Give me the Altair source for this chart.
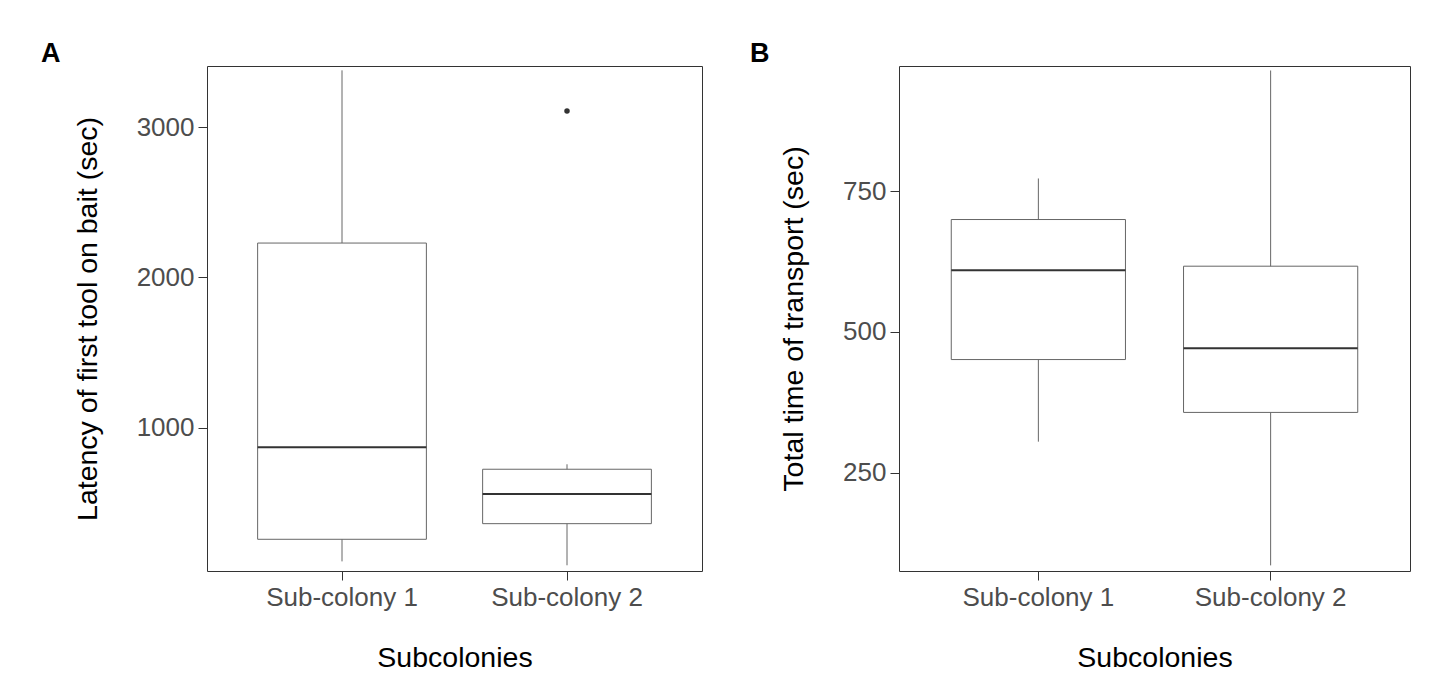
import altair as alt
import pandas as pd

# ---- data ----
categories = ["Sub-colony 1", "Sub-colony 2"]

# Panel A: latency of first tool on bait (sec)
a_lower = [110, 84]
a_q1 = [257, 361]
a_median = [869, 558]
a_q3 = [2228, 723]
a_upper = [3377, 756]
a_out_group = ["Sub-colony 2"]
a_out_value = [3106]
a_domain = [46, 3406]
a_ticks = [1000, 2000, 3000]

# Panel B: total time of transport (sec)
b_lower = [305, 85]
b_q1 = [451, 357]
b_median = [610, 471]
b_q3 = [700, 617]
b_upper = [773, 965]
b_out_group = []
b_out_value = []
b_domain = [75, 973]
b_ticks = [250, 500, 750]

FONT = "Liberation Sans"


def panel(lower, q1, med, q3, upper, out_g, out_v, domain, ticks,
          ytitle, width, letter, letter_dx):
    df = pd.DataFrame({"group": categories, "lower": lower, "q1": q1,
                       "median": med, "q3": q3, "upper": upper})
    xenc = alt.X("group:N", sort=categories,
                 scale=alt.Scale(type="band", paddingInner=0.25, paddingOuter=0.225),
                 axis=alt.Axis(title="Subcolonies", labelAngle=0))
    yscale = alt.Scale(domain=domain, nice=False, zero=False)
    yaxis = alt.Axis(title=ytitle, values=ticks, format="d")
    base = alt.Chart(df)
    whisk = base.mark_rule(color="#666666", strokeWidth=1).encode(
        x=xenc, y=alt.Y("lower:Q", scale=yscale, axis=yaxis), y2="upper:Q")
    box = base.mark_bar(fill="white", stroke="#666666", strokeWidth=1).encode(
        x=xenc, y=alt.Y("q1:Q", scale=yscale, axis=yaxis), y2="q3:Q")
    bw = width / 2.2 * 0.75
    medl = base.mark_tick(orient="horizontal", size=bw, thickness=2,
                          color="#333333", opacity=1).encode(
        x=xenc, y=alt.Y("median:Q", scale=yscale, axis=yaxis))
    layers = [whisk, box, medl]
    if len(out_g):
        odf = pd.DataFrame({"group": out_g, "value": out_v})
        pts = alt.Chart(odf).mark_circle(size=30, color="#333333", opacity=1).encode(
            x=xenc, y=alt.Y("value:Q", scale=yscale, axis=yaxis))
        layers.append(pts)
    return alt.layer(*layers).properties(
        width=width, height=505,
        title=alt.TitleParams(letter, anchor="start", frame="group", dx=letter_dx,
                              fontSize=27, fontWeight="bold", font=FONT,
                              color="black", offset=-2))


pa = panel(a_lower, a_q1, a_median, a_q3, a_upper, a_out_group, a_out_value,
           a_domain, a_ticks, "Latency of first tool on bait (sec)", 495, "A", -166)
pb = panel(b_lower, b_q1, b_median, b_q3, b_upper, b_out_group, b_out_value,
           b_domain, b_ticks, "Total time of transport (sec)", 511, "B", -149)

chart = alt.hconcat(pa, pb, spacing=46).properties(
    padding={"left": 32, "top": 31, "right": 10, "bottom": 5}
).configure_view(
    stroke="#333333", strokeWidth=1
).configure_axis(
    domain=False, grid=False, tickColor="#333333", tickSize=9, tickWidth=1,
    labelColor="#4d4d4d", labelFontSize=26, labelFont=FONT, labelPadding=4,
    titleFont=FONT, titleFontSize=28.5, titleFontWeight="normal", titleColor="black",
).configure_axisY(titlePadding=34).configure_axisX(titlePadding=33)

chart.save("out.html", embed_options={"renderer": "svg", "actions": False})
